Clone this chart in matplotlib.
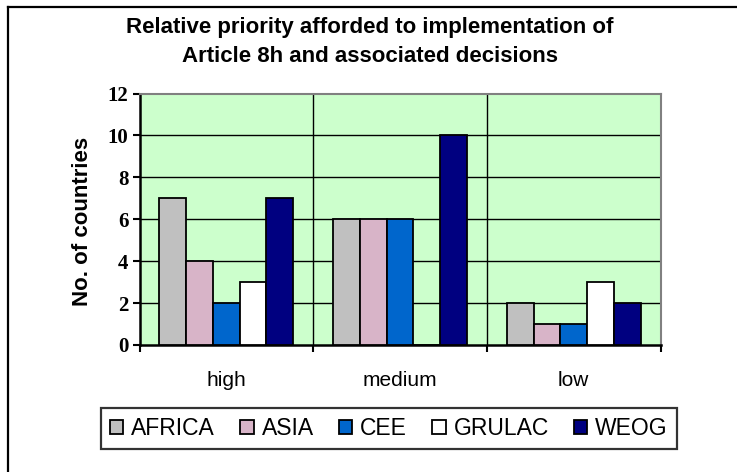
import matplotlib.pyplot as plt
import numpy as np
from matplotlib.lines import Line2D

categories = ['high', 'medium', 'low']
regions = ['AFRICA', 'ASIA', 'CEE', 'GRULAC', 'WEOG']
africa = [7, 6, 2]
asia = [4, 6, 1]
cee = [2, 6, 1]
grulac = [3, 0, 3]
weog = [7, 10, 2]
yticks = [0, 2, 4, 6, 8, 10, 12]

series = [africa, asia, cee, grulac, weog]
colors = ['#C0C0C0', '#D8B4C8', '#0066CC', '#FFFFFF', '#000080']

W, H = 737, 472
fig = plt.figure(figsize=(W / 100, H / 100), dpi=100)
fig.patch.set_facecolor('white')

# outer chart frame (left and top edges only are visible)
fig.add_artist(Line2D([8 / W, 8 / W], [0, 1 - 7 / H], transform=fig.transFigure,
                      color='black', lw=1.6))
fig.add_artist(Line2D([8 / W, 1], [1 - 7 / H, 1 - 7 / H], transform=fig.transFigure,
                      color='black', lw=1.6))

left, right, top, bottom = 139.5, 660.5, 93.5, 345
ax = fig.add_axes([left / W, 1 - bottom / H, (right - left) / W, (bottom - top) / H])
ax.set_facecolor('#CCFFCC')

x = np.arange(len(categories))
bw = 0.154
for i, (vals, c) in enumerate(zip(series, colors)):
    ax.bar(x + (i - 2) * bw, vals, width=bw, color=c, edgecolor='black',
           linewidth=1.3, label=regions[i], zorder=3)

ax.set_xlim(-0.5, 2.5)
ax.set_ylim(0, 12)
ax.set_yticks(yticks)
ax.set_yticklabels([str(t) for t in yticks], fontfamily='Liberation Serif',
                   fontweight='bold', fontsize=15)
ax.tick_params(axis='y', direction='out', length=5, width=1.5, pad=3)

ax.set_xticks([-0.5, 0.5, 1.5, 2.5])
ax.set_xticklabels([])
ax.tick_params(axis='x', which='major', direction='out', length=5, width=1.5)
ax.set_xticks(x, minor=True)
ax.set_xticklabels(categories, minor=True, fontfamily='Liberation Sans', fontsize=15)
ax.tick_params(axis='x', which='minor', length=0, pad=19)

# grid: horizontal at each tick, vertical between categories
for t in yticks[1:-1]:
    ax.axhline(t, color='black', lw=1, zorder=1)
for b in [0.5, 1.5]:
    ax.axvline(b, color='black', lw=1, zorder=1)

for s in ['top', 'right']:
    ax.spines[s].set_color('#808080')
    ax.spines[s].set_linewidth(1.5)
for s in ['left', 'bottom']:
    ax.spines[s].set_color('black')
    ax.spines[s].set_linewidth(1.8)

ax.set_ylabel('No. of countries', fontfamily='Liberation Sans', fontweight='bold',
              fontsize=16)
ax.yaxis.set_label_coords((93 - left) / (right - left), (345 - 221) / (bottom - top))

fig.text(370 / W, 1 - 28 / H, 'Relative priority afforded to implementation of',
         ha='center', va='center', fontfamily='Liberation Sans', fontweight='bold',
         fontsize=16)
fig.text(370 / W, 1 - 56 / H, 'Article 8h and associated decisions',
         ha='center', va='center', fontfamily='Liberation Sans', fontweight='bold',
         fontsize=16)

leg = fig.legend(loc='center', bbox_to_anchor=(389 / W, 1 - 428.5 / H), ncol=5,
                 frameon=True, fancybox=False, edgecolor='black',
                 prop={'family': 'Liberation Sans', 'size': 16.5},
                 handlelength=0.58, handleheight=0.58, handletextpad=0.35,
                 columnspacing=1.1, borderpad=0.4)
leg.get_frame().set_linewidth(1.6)

fig.savefig('out.png', dpi=100, facecolor='white')
